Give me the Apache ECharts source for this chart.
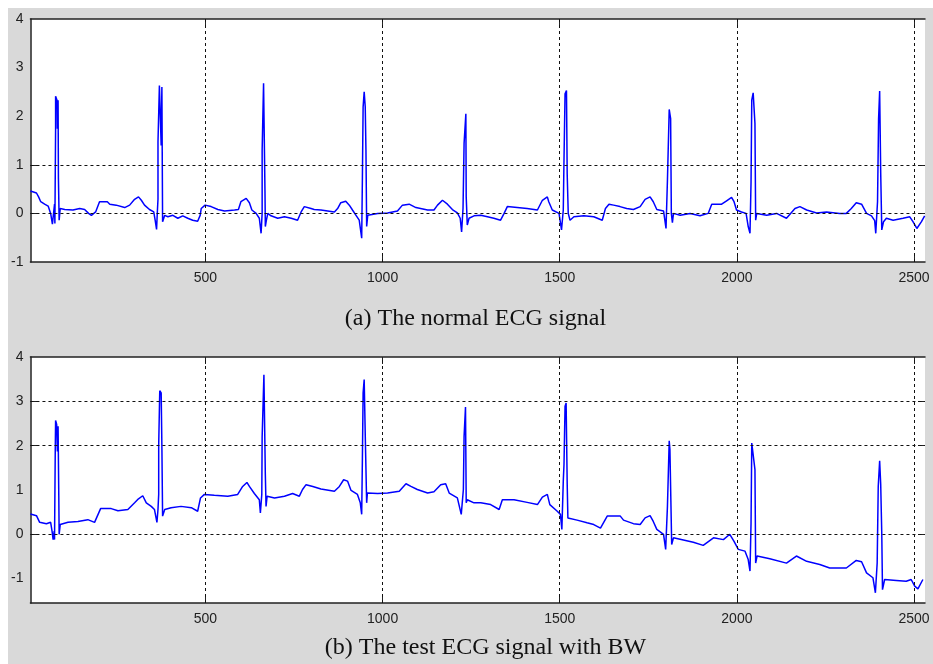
<!DOCTYPE html>
<html>
<head>
<meta charset="utf-8">
<script src="https://cdn.jsdelivr.net/npm/echarts@6/dist/echarts.min.js"></script>
<style>
  html, body { margin: 0; padding: 0; background: #fff; }
  #chart { position: absolute; left: 8px; top: 8px; width: 925px; height: 656px; background: #d9d9d9; }
</style>
</head>
<body>
<div id="chart"></div>
<script>
// Sample index / amplitude of the clean ECG trace
const normalX = [6,23,29,35,46,56,63,68,72,74,75,77,77,81,82,84,85,87,90,103,126,145,159,170,178,190,201,223,230,248,272,286,300,311,319,328,342,354,358,362,364,366,366,369,370,373,375,377,379,385,394,408,422,436,450,464,478,485,488,499,516,535,554,582,593,600,615,624,631,643,652,657,660,660,663,664,666,668,669,672,676,685,704,723,742,760,770,779,798,807,826,864,873,882,896,906,915,925,934,941,943,945,948,951,953,955,958,986,1014,1042,1056,1075,1094,1127,1145,1155,1169,1183,1197,1211,1219,1223,1227,1230,1235,1236,1239,1244,1258,1277,1296,1314,1333,1343,1352,1380,1408,1437,1451,1465,1469,1479,1498,1505,1510,1512,1515,1519,1521,1524,1529,1540,1568,1596,1620,1629,1639,1652,1670,1689,1708,1727,1741,1755,1764,1774,1793,1800,1804,1809,1813,1815,1818,1821,1840,1868,1896,1919,1929,1957,1971,1985,1992,1999,2013,2026,2032,2037,2040,2042,2046,2051,2053,2056,2084,2112,2140,2164,2178,2197,2225,2253,2290,2309,2323,2337,2352,2366,2380,2389,2392,2397,2400,2403,2406,2409,2414,2422,2441,2469,2488,2497,2508,2521,2530];
const normalY = [0.46,0.42,0.34,0.24,0.19,0.15,0.0,-0.22,-0.24,0.19,-0.21,1.74,2.41,2.33,1.74,2.33,0.72,-0.14,0.1,0.08,0.07,0.1,0.08,0.0,-0.04,0.03,0.24,0.24,0.19,0.17,0.12,0.17,0.29,0.34,0.27,0.17,0.08,0.03,-0.14,-0.33,0.0,0.29,1.47,1.47,2.63,2.6,1.4,2.6,-0.17,-0.04,-0.07,-0.04,-0.1,-0.05,-0.1,-0.14,-0.16,-0.04,0.1,0.17,0.14,0.08,0.05,0.07,0.08,0.24,0.31,0.22,0.07,0.0,-0.1,-0.41,0.0,1.3,1.3,2.68,2.67,0.45,-0.27,-0.14,0.0,-0.05,-0.1,-0.07,-0.1,-0.14,0.03,0.14,0.1,0.08,0.07,0.03,0.1,0.22,0.25,0.17,0.07,-0.04,-0.14,-0.51,0.75,2.19,2.5,2.19,1.3,-0.27,-0.04,0.0,0.01,0.05,0.17,0.19,0.12,0.07,0.07,0.17,0.27,0.19,0.08,0.01,-0.1,-0.38,0.1,1.44,2.05,0.34,-0.24,-0.1,-0.05,-0.04,-0.07,-0.1,-0.14,0.0,0.14,0.12,0.1,0.07,0.27,0.34,0.24,0.07,0.0,-0.34,0.07,1.1,2.46,2.53,0.82,0.0,-0.14,-0.07,-0.05,-0.07,-0.14,0.1,0.19,0.17,0.14,0.1,0.08,0.14,0.29,0.34,0.24,0.08,0.05,-0.31,0.68,2.14,1.95,0.0,-0.19,0.0,-0.04,0.0,-0.05,0.0,0.19,0.19,0.26,0.33,0.24,0.07,0.03,0.0,-0.27,-0.41,0.65,2.33,2.48,1.85,-0.14,0.0,-0.04,0.0,-0.1,0.1,0.14,0.07,0.01,0.03,0.0,0.0,0.1,0.22,0.19,0.0,-0.05,-0.15,-0.41,0.24,1.95,2.52,0.82,-0.34,-0.17,-0.1,-0.14,-0.1,-0.07,-0.17,-0.31,-0.17,-0.05];

// Same recording with baseline wander added
const bwX = [6,23,32,51,63,67,70,73,74,76,77,80,82,84,86,87,90,112,140,168,187,204,234,253,281,300,311,323,333,347,356,363,366,368,368,370,371,375,377,379,385,403,431,460,478,486,497,525,563,591,605,617,624,638,652,655,659,660,663,665,668,669,671,674,695,723,746,765,774,784,803,826,864,878,890,901,911,929,937,941,943,945,948,951,954,955,957,986,1014,1047,1066,1080,1098,1127,1145,1164,1178,1188,1211,1222,1228,1230,1234,1236,1239,1258,1277,1305,1329,1338,1371,1408,1437,1451,1465,1472,1493,1502,1506,1510,1512,1515,1518,1521,1523,1526,1549,1577,1596,1615,1634,1671,1680,1708,1727,1741,1755,1764,1774,1793,1799,1804,1807,1809,1811,1814,1816,1821,1849,1877,1905,1934,1962,1980,1992,2004,2023,2032,2037,2040,2042,2046,2051,2053,2057,2093,2140,2168,2197,2234,2262,2309,2337,2352,2366,2384,2391,2396,2399,2403,2406,2409,2411,2417,2450,2478,2492,2502,2511,2525];
const bwY = [0.46,0.42,0.27,0.24,0.27,0.07,-0.12,0.07,-0.12,1.87,2.57,2.48,1.87,2.44,0.87,0.0,0.22,0.27,0.29,0.33,0.27,0.58,0.58,0.53,0.56,0.71,0.8,0.87,0.71,0.63,0.56,0.27,0.56,0.9,2.02,2.02,3.24,3.19,1.99,0.41,0.56,0.6,0.63,0.6,0.52,0.82,0.9,0.88,0.86,0.9,1.08,1.17,1.08,0.92,0.78,0.48,0.9,2.19,2.19,3.6,3.57,1.35,0.63,0.86,0.82,0.86,0.92,0.86,1.01,1.12,1.08,1.02,0.97,1.08,1.23,1.2,0.99,0.9,0.71,0.45,1.72,3.19,3.49,2.25,2.25,0.71,0.93,0.92,0.93,0.97,1.14,1.08,1.01,0.93,0.96,1.12,1.14,0.93,0.82,0.45,1.01,2.21,2.87,0.71,0.78,0.71,0.71,0.67,0.56,0.78,0.78,0.72,0.67,0.84,0.9,0.67,0.52,0.45,0.11,1.2,1.57,2.89,2.96,1.16,0.37,0.35,0.32,0.26,0.22,0.14,0.41,0.41,0.32,0.24,0.22,0.37,0.42,0.29,0.11,0.0,-0.34,0.63,0.63,2.11,1.91,1.91,-0.23,-0.08,-0.13,-0.18,-0.25,-0.08,-0.12,0.0,-0.16,-0.34,-0.38,-0.57,-0.83,0.26,2.06,2.05,1.46,-0.65,-0.49,-0.55,-0.65,-0.49,-0.61,-0.68,-0.76,-0.76,-0.59,-0.62,-0.87,-0.98,-1.32,-0.65,1.08,1.66,1.12,0.0,-1.25,-1.02,-1.04,-1.06,-1.02,-1.17,-1.23,-1.02];

// Axis ticks and visible grid lines
const xTicks = [500, 1000, 1500, 2000, 2500];
const yTicks = [-1, 0, 1, 2, 3, 4];
const normalGridY = [0, 1];
const bwGridY = [0, 2, 3];
const captions = ['(a) The normal ECG signal', '(b) The test ECG signal with BW'];

const AXIS_COLOR = '#222';
const LABEL_FONT = { color: '#222', fontFamily: 'Liberation Sans', fontSize: 14, formatter: v => String(v) };

function xAxisFor(gridIndex, position, withLabels) {
  return {
    type: 'value', gridIndex, position, min: 6, max: 2531,
    axisLine: { show: true, onZero: false, lineStyle: { color: AXIS_COLOR, width: 1.5 } },
    axisTick: { show: true, inside: true, length: 7, customValues: xTicks, lineStyle: { color: AXIS_COLOR } },
    axisLabel: Object.assign({ show: withLabels, customValues: xTicks, margin: 9 }, LABEL_FONT),
    splitLine: { show: false }
  };
}

function yAxisFor(gridIndex, position, min, tickVals, withLabels) {
  return {
    type: 'value', gridIndex, position, min, max: 4,
    axisLine: { show: position === 'left', onZero: false, lineStyle: { color: AXIS_COLOR, width: 1.5 } },
    axisTick: { show: true, inside: true, length: 7, customValues: tickVals, lineStyle: { color: AXIS_COLOR } },
    axisLabel: Object.assign({ show: withLabels, customValues: yTicks, margin: 7 }, LABEL_FONT),
    splitLine: { show: false }
  };
}

function gridLines(xIdx, yIdx, yVals) {
  return {
    type: 'line', xAxisIndex: xIdx, yAxisIndex: yIdx, data: [], z: 1, silent: true,
    markLine: {
      silent: true, symbol: 'none', animation: false,
      label: { show: false },
      lineStyle: { color: '#111', type: [3, 3], width: 1 },
      data: yVals.map(v => ({ yAxis: v })).concat(xTicks.map(v => ({ xAxis: v })))
    }
  };
}

function signal(xs, ys, xIdx, yIdx) {
  return {
    type: 'line', xAxisIndex: xIdx, yAxisIndex: yIdx, z: 3,
    data: xs.map((x, i) => [x, ys[i]]),
    showSymbol: false, symbol: 'none', animation: false, clip: true,
    lineStyle: { color: '#0000ff', width: 1.5 }
  };
}

const chart = echarts.init(document.getElementById('chart'), null, { renderer: 'canvas' });
chart.setOption({
  backgroundColor: 'transparent',
  animation: false,
  grid: [
    { left: 21, top: 11, width: 896, height: 243, show: true, backgroundColor: '#fff', borderWidth: 0 },
    { left: 21, top: 349, width: 896, height: 246, show: true, backgroundColor: '#fff', borderWidth: 0 }
  ],
  xAxis: [
    xAxisFor(0, 'bottom', true),
    xAxisFor(0, 'top', false),
    xAxisFor(1, 'bottom', true),
    xAxisFor(1, 'top', false)
  ],
  yAxis: [
    yAxisFor(0, 'left', -1, normalGridY, true),
    yAxisFor(0, 'right', -1, normalGridY, false),
    yAxisFor(1, 'left', -1.55, bwGridY, true),
    yAxisFor(1, 'right', -1.55, bwGridY, false)
  ],
  series: [
    gridLines(0, 0, normalGridY),
    signal(normalX, normalY, 0, 0),
    gridLines(2, 2, bwGridY),
    signal(bwX, bwY, 2, 2)
  ],
  graphic: [
    { type: 'text', x: 467.5, y: 311, silent: true,
      style: { text: captions[0], fill: '#111', font: '24px "Liberation Serif"', align: 'center', verticalAlign: 'middle' } },
    { type: 'text', x: 477.5, y: 640, silent: true,
      style: { text: captions[1], fill: '#111', font: '24px "Liberation Serif"', align: 'center', verticalAlign: 'middle' } }
  ]
});
</script>
</body>
</html>
